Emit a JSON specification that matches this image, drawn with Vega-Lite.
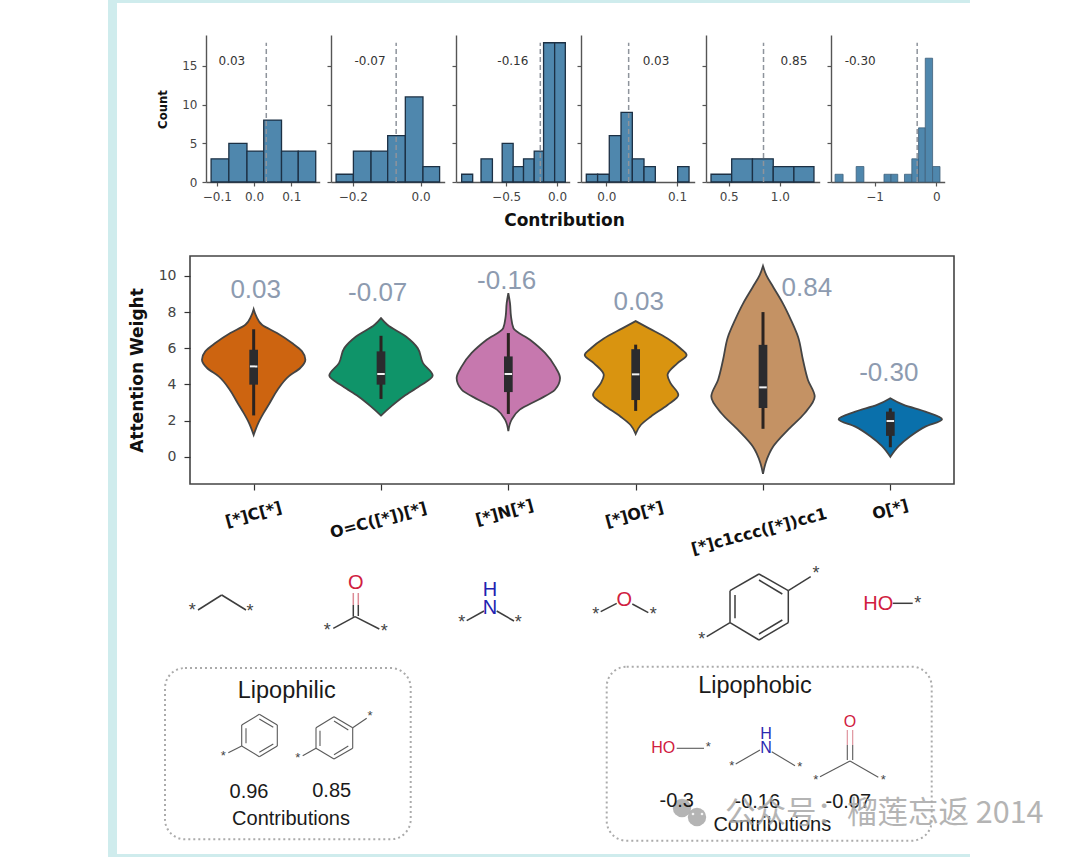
{
"$schema":"https://vega.github.io/schema/vega-lite/v6.json",
"padding":0,"background":"#ffffff","bounds":"flush","spacing":221,
"config":{"view":{"stroke":null},"axis":{"grid":false,"domainColor":"#555555","tickColor":"#555555","labelColor":"#444444","labelFont":"DejaVu Sans","labelFontSize":12,"tickSize":4,"domainWidth":1.4,"tickWidth":1.2,"labelPadding":5,"titleFont":"DejaVu Sans","titleFontWeight":"bold","titleColor":"#111111"}},
"vconcat":[
{"bounds":"flush","spacing":11,"hconcat":[
{"width":5,"height":147,"data":{"values":[{"a":0}]},"mark":{"type":"point","opacity":0},"encoding":{}},
{"width":113.7,"height":147,"layer":[
{"data":{"values":[{"b0":-0.1153,"b1":-0.0676,"count":3},{"b0":-0.0676,"b1":-0.0189,"count":5},{"b0":-0.0189,"b1":0.0261,"count":4},{"b0":0.0261,"b1":0.0739,"count":8},{"b0":0.0739,"b1":0.1189,"count":4},{"b0":0.1189,"b1":0.1658,"count":4}]},
"mark":{"type":"bar","fill":"#4f87ad","stroke":"#1c3044","strokeWidth":1.3},
"encoding":{"x":{"field":"b0","type":"quantitative","scale":{"domain":[-0.129,0.1765],"nice":false,"zero":false},"axis":{"values":[-0.1,0,0.1],"format":".1f","title":null}},"x2":{"field":"b1"},"y":{"field":"count","type":"quantitative","scale":{"domain":[0,19],"nice":false},"axis":{"values":[0,5,10,15],"title":"Count","titleFontSize":11.7,"titleX":-38,"titleY":74}},"y2":{"datum":0}}},
{"data":{"values":[{"mean":0.033,"from":0,"to":18}]},"mark":{"type":"rule","stroke":"#8e949c","strokeWidth":1.5,"strokeDash":[5,3]},"encoding":{"x":{"field":"mean","type":"quantitative"},"y":{"field":"from","type":"quantitative"},"y2":{"field":"to"}}},
{"data":{"values":[{"x":-0.0595,"y":15.6,"label":"0.03"}]},"mark":{"type":"text","font":"DejaVu Sans","fontSize":12,"fill":"#333333"},"encoding":{"x":{"field":"x","type":"quantitative"},"y":{"field":"y","type":"quantitative"},"text":{"field":"label"}}}
]},
{"width":113.7,"height":147,"layer":[
{"data":{"values":[{"b0":-0.249,"b1":-0.198,"count":1},{"b0":-0.198,"b1":-0.146,"count":4},{"b0":-0.146,"b1":-0.097,"count":4},{"b0":-0.097,"b1":-0.045,"count":6},{"b0":-0.045,"b1":0.007,"count":11},{"b0":0.007,"b1":0.056,"count":2}]},
"mark":{"type":"bar","fill":"#4f87ad","stroke":"#1c3044","strokeWidth":1.3},
"encoding":{"x":{"field":"b0","type":"quantitative","scale":{"domain":[-0.264,0.071],"nice":false,"zero":false},"axis":{"values":[-0.2,0],"format":".1f","title":null}},"x2":{"field":"b1"},"y":{"field":"count","type":"quantitative","scale":{"domain":[0,19],"nice":false},"axis":{"values":[0,5,10,15],"title":null,"labels":false}},"y2":{"datum":0}}},
{"data":{"values":[{"mean":-0.072,"from":0,"to":18}]},"mark":{"type":"rule","stroke":"#8e949c","strokeWidth":1.5,"strokeDash":[5,3]},"encoding":{"x":{"field":"mean","type":"quantitative"},"y":{"field":"from","type":"quantitative"},"y2":{"field":"to"}}},
{"data":{"values":[{"x":-0.149,"y":15.6,"label":"-0.07"}]},"mark":{"type":"text","font":"DejaVu Sans","fontSize":12,"fill":"#333333"},"encoding":{"x":{"field":"x","type":"quantitative"},"y":{"field":"y","type":"quantitative"},"text":{"field":"label"}}}
]},
{"width":113.7,"height":147,"layer":[
{"data":{"values":[{"b0":-0.9375,"b1":-0.829,"count":1},{"b0":-0.747,"b1":-0.635,"count":3},{"b0":-0.539,"b1":-0.431,"count":5},{"b0":-0.431,"b1":-0.329,"count":2},{"b0":-0.329,"b1":-0.224,"count":3},{"b0":-0.224,"b1":-0.132,"count":4},{"b0":-0.132,"b1":-0.023,"count":18},{"b0":-0.023,"b1":0.082,"count":18}]},
"mark":{"type":"bar","fill":"#4f87ad","stroke":"#1c3044","strokeWidth":1.3},
"encoding":{"x":{"field":"b0","type":"quantitative","scale":{"domain":[-0.993,0.125],"nice":false,"zero":false},"axis":{"values":[-0.5,0],"format":".1f","title":"Contribution","titleFontSize":17,"titleX":108,"titleY":30}},"x2":{"field":"b1"},"y":{"field":"count","type":"quantitative","scale":{"domain":[0,19],"nice":false},"axis":{"values":[0,5,10,15],"title":null,"labels":false}},"y2":{"datum":0}}},
{"data":{"values":[{"mean":-0.164,"from":0,"to":18}]},"mark":{"type":"rule","stroke":"#8e949c","strokeWidth":1.5,"strokeDash":[5,3]},"encoding":{"x":{"field":"mean","type":"quantitative"},"y":{"field":"from","type":"quantitative"},"y2":{"field":"to"}}},
{"data":{"values":[{"x":-0.434,"y":15.6,"label":"-0.16"}]},"mark":{"type":"text","font":"DejaVu Sans","fontSize":12,"fill":"#333333"},"encoding":{"x":{"field":"x","type":"quantitative"},"y":{"field":"y","type":"quantitative"},"text":{"field":"label"}}}
]},
{"width":113.7,"height":147,"layer":[
{"data":{"values":[{"b0":-0.0283,"b1":-0.0123,"count":1},{"b0":-0.0123,"b1":0.0042,"count":1},{"b0":0.0042,"b1":0.0208,"count":6},{"b0":0.0208,"b1":0.0368,"count":9},{"b0":0.0368,"b1":0.0533,"count":3},{"b0":0.0533,"b1":0.0693,"count":2},{"b0":0.1009,"b1":0.117,"count":2}]},
"mark":{"type":"bar","fill":"#4f87ad","stroke":"#1c3044","strokeWidth":1.3},
"encoding":{"x":{"field":"b0","type":"quantitative","scale":{"domain":[-0.0358,0.125],"nice":false,"zero":false},"axis":{"values":[0,0.1],"format":".1f","title":null}},"x2":{"field":"b1"},"y":{"field":"count","type":"quantitative","scale":{"domain":[0,19],"nice":false},"axis":{"values":[0,5,10,15],"title":null,"labels":false}},"y2":{"datum":0}}},
{"data":{"values":[{"mean":0.0316,"from":0,"to":18}]},"mark":{"type":"rule","stroke":"#8e949c","strokeWidth":1.5,"strokeDash":[5,3]},"encoding":{"x":{"field":"mean","type":"quantitative"},"y":{"field":"from","type":"quantitative"},"y2":{"field":"to"}}},
{"data":{"values":[{"x":0.0703,"y":15.6,"label":"0.03"}]},"mark":{"type":"text","font":"DejaVu Sans","fontSize":12,"fill":"#333333"},"encoding":{"x":{"field":"x","type":"quantitative"},"y":{"field":"y","type":"quantitative"},"text":{"field":"label"}}}
]},
{"width":113.7,"height":147,"layer":[
{"data":{"values":[{"b0":0.327,"b1":0.529,"count":1},{"b0":0.529,"b1":0.732,"count":3},{"b0":0.732,"b1":0.935,"count":3},{"b0":0.935,"b1":1.137,"count":2},{"b0":1.137,"b1":1.333,"count":2}]},
"mark":{"type":"bar","fill":"#4f87ad","stroke":"#1c3044","strokeWidth":1.3},
"encoding":{"x":{"field":"b0","type":"quantitative","scale":{"domain":[0.278,1.389],"nice":false,"zero":false},"axis":{"values":[0.5,1],"format":".1f","title":null}},"x2":{"field":"b1"},"y":{"field":"count","type":"quantitative","scale":{"domain":[0,19],"nice":false},"axis":{"values":[0,5,10,15],"title":null,"labels":false}},"y2":{"datum":0}}},
{"data":{"values":[{"mean":0.84,"from":0,"to":18}]},"mark":{"type":"rule","stroke":"#8e949c","strokeWidth":1.5,"strokeDash":[5,3]},"encoding":{"x":{"field":"mean","type":"quantitative"},"y":{"field":"from","type":"quantitative"},"y2":{"field":"to"}}},
{"data":{"values":[{"x":1.137,"y":15.6,"label":"0.85"}]},"mark":{"type":"text","font":"DejaVu Sans","fontSize":12,"fill":"#333333"},"encoding":{"x":{"field":"x","type":"quantitative"},"y":{"field":"y","type":"quantitative"},"text":{"field":"label"}}}
]},
{"width":113.7,"height":147,"layer":[
{"data":{"values":[{"b0":-1.641,"b1":-1.511,"count":1},{"b0":-1.299,"b1":-1.174,"count":2},{"b0":-0.848,"b1":-0.734,"count":1},{"b0":-0.734,"b1":-0.625,"count":1},{"b0":-0.516,"b1":-0.397,"count":1},{"b0":-0.397,"b1":-0.288,"count":3},{"b0":-0.288,"b1":-0.179,"count":7},{"b0":-0.179,"b1":-0.06,"count":16},{"b0":-0.06,"b1":0.06,"count":2}]},
"mark":{"type":"bar","fill":"#4f87ad","stroke":"#3f5f7a","strokeWidth":0.8},
"encoding":{"x":{"field":"b0","type":"quantitative","scale":{"domain":[-1.707,0.136],"nice":false,"zero":false},"axis":{"values":[-1,0],"format":"d","title":null}},"x2":{"field":"b1"},"y":{"field":"count","type":"quantitative","scale":{"domain":[0,19],"nice":false},"axis":{"values":[0,5,10,15],"title":null,"labels":false}},"y2":{"datum":0}}},
{"data":{"values":[{"mean":-0.31,"from":0,"to":18}]},"mark":{"type":"rule","stroke":"#8e949c","strokeWidth":1.5,"strokeDash":[5,3]},"encoding":{"x":{"field":"mean","type":"quantitative"},"y":{"field":"from","type":"quantitative"},"y2":{"field":"to"}}},
{"data":{"values":[{"x":-1.234,"y":15.6,"label":"-0.30"}]},"mark":{"type":"text","font":"DejaVu Sans","fontSize":12,"fill":"#333333"},"encoding":{"x":{"field":"x","type":"quantitative"},"y":{"field":"y","type":"quantitative"},"text":{"field":"label"}}}
]}
]},
{"width":764,"height":228,"view":{"stroke":"#444444","strokeWidth":1.6},"layer":[
{"data":{"values":[
{"fragment":"[*]C[*]","weight":8.16,"left":0,"right":0},{"fragment":"[*]C[*]","weight":7.76,"left":-0.021,"right":0.021},{"fragment":"[*]C[*]","weight":7.3,"left":-0.065,"right":0.065},{"fragment":"[*]C[*]","weight":6.84,"left":-0.183,"right":0.183},{"fragment":"[*]C[*]","weight":6.29,"left":-0.301,"right":0.301},{"fragment":"[*]C[*]","weight":5.83,"left":-0.38,"right":0.38},{"fragment":"[*]C[*]","weight":5.37,"left":-0.406,"right":0.406},{"fragment":"[*]C[*]","weight":4.91,"left":-0.366,"right":0.366},{"fragment":"[*]C[*]","weight":4.45,"left":-0.275,"right":0.275},{"fragment":"[*]C[*]","weight":3.71,"left":-0.188,"right":0.188},{"fragment":"[*]C[*]","weight":2.98,"left":-0.126,"right":0.126},{"fragment":"[*]C[*]","weight":2.43,"left":-0.079,"right":0.079},{"fragment":"[*]C[*]","weight":1.88,"left":-0.037,"right":0.037},{"fragment":"[*]C[*]","weight":1.21,"left":0,"right":0},
{"fragment":"O=C([*])[*]","weight":7.67,"left":1,"right":1},{"fragment":"O=C([*])[*]","weight":7.3,"left":0.95,"right":1.05},{"fragment":"O=C([*])[*]","weight":6.65,"left":0.804,"right":1.196},{"fragment":"O=C([*])[*]","weight":6.01,"left":0.712,"right":1.288},{"fragment":"O=C([*])[*]","weight":5.18,"left":0.67,"right":1.33},{"fragment":"O=C([*])[*]","weight":4.49,"left":0.594,"right":1.406},{"fragment":"O=C([*])[*]","weight":3.9,"left":0.7,"right":1.3},{"fragment":"O=C([*])[*]","weight":3.35,"left":0.82,"right":1.18},{"fragment":"O=C([*])[*]","weight":2.79,"left":0.92,"right":1.08},{"fragment":"O=C([*])[*]","weight":2.28,"left":1,"right":1},
{"fragment":"[*]N[*]","weight":9.04,"left":2,"right":2},{"fragment":"[*]N[*]","weight":8.49,"left":1.987,"right":2.013},{"fragment":"[*]N[*]","weight":7.76,"left":1.979,"right":2.021},{"fragment":"[*]N[*]","weight":7.11,"left":1.96,"right":2.04},{"fragment":"[*]N[*]","weight":6.47,"left":1.83,"right":2.17},{"fragment":"[*]N[*]","weight":5.74,"left":1.712,"right":2.288},{"fragment":"[*]N[*]","weight":5,"left":1.634,"right":2.366},{"fragment":"[*]N[*]","weight":4.36,"left":1.594,"right":2.406},{"fragment":"[*]N[*]","weight":3.71,"left":1.634,"right":2.366},{"fragment":"[*]N[*]","weight":3.16,"left":1.764,"right":2.236},{"fragment":"[*]N[*]","weight":2.61,"left":1.91,"right":2.09},{"fragment":"[*]N[*]","weight":2.06,"left":1.974,"right":2.026},{"fragment":"[*]N[*]","weight":1.42,"left":2,"right":2},
{"fragment":"[*]O[*]","weight":7.5,"left":3,"right":3},{"fragment":"[*]O[*]","weight":7.1,"left":2.895,"right":3.105},{"fragment":"[*]O[*]","weight":6.54,"left":2.75,"right":3.25},{"fragment":"[*]O[*]","weight":5.99,"left":2.647,"right":3.353},{"fragment":"[*]O[*]","weight":5.63,"left":2.6,"right":3.4},{"fragment":"[*]O[*]","weight":5.17,"left":2.673,"right":3.327},{"fragment":"[*]O[*]","weight":4.52,"left":2.75,"right":3.25},{"fragment":"[*]O[*]","weight":4.06,"left":2.725,"right":3.275},{"fragment":"[*]O[*]","weight":3.42,"left":2.665,"right":3.335},{"fragment":"[*]O[*]","weight":2.87,"left":2.75,"right":3.25},{"fragment":"[*]O[*]","weight":2.22,"left":2.882,"right":3.118},{"fragment":"[*]O[*]","weight":1.76,"left":2.96,"right":3.04},{"fragment":"[*]O[*]","weight":1.27,"left":3,"right":3},
{"fragment":"[*]c1ccc([*])cc1","weight":10.55,"left":4,"right":4},{"fragment":"[*]c1ccc([*])cc1","weight":10.04,"left":3.974,"right":4.026},{"fragment":"[*]c1ccc([*])cc1","weight":9.39,"left":3.92,"right":4.08},{"fragment":"[*]c1ccc([*])cc1","weight":8.47,"left":3.843,"right":4.157},{"fragment":"[*]c1ccc([*])cc1","weight":7.56,"left":3.78,"right":4.22},{"fragment":"[*]c1ccc([*])cc1","weight":6.64,"left":3.725,"right":4.275},{"fragment":"[*]c1ccc([*])cc1","weight":5.35,"left":3.686,"right":4.314},{"fragment":"[*]c1ccc([*])cc1","weight":4.25,"left":3.647,"right":4.353},{"fragment":"[*]c1ccc([*])cc1","weight":3.33,"left":3.594,"right":4.406},{"fragment":"[*]c1ccc([*])cc1","weight":2.41,"left":3.673,"right":4.327},{"fragment":"[*]c1ccc([*])cc1","weight":1.49,"left":3.804,"right":4.196},{"fragment":"[*]c1ccc([*])cc1","weight":0.57,"left":3.92,"right":4.08},{"fragment":"[*]c1ccc([*])cc1","weight":-0.35,"left":3.98,"right":4.02},{"fragment":"[*]c1ccc([*])cc1","weight":-0.94,"left":4,"right":4},
{"fragment":"O[*]","weight":3.24,"left":5,"right":5},{"fragment":"O[*]","weight":2.87,"left":4.895,"right":5.105},{"fragment":"O[*]","weight":2.5,"left":4.725,"right":5.275},{"fragment":"O[*]","weight":2.08,"left":4.594,"right":5.406},{"fragment":"O[*]","weight":1.67,"left":4.725,"right":5.275},{"fragment":"O[*]","weight":1.14,"left":4.843,"right":5.157},{"fragment":"O[*]","weight":0.59,"left":4.935,"right":5.065},{"fragment":"O[*]","weight":0,"left":5,"right":5}
]},
"mark":{"type":"area","orient":"horizontal","interpolate":"monotone","stroke":"#444444","strokeWidth":1.8,"fillOpacity":1},
"encoding":{"x":{"field":"left","type":"quantitative","scale":{"domain":[-0.5,5.5],"nice":false,"zero":false},"axis":{"values":[0,1,2,3,4,5],"labels":false,"title":null,"domain":false,"tickSize":6,"tickColor":"#333333"}},"x2":{"field":"right"},"y":{"field":"weight","type":"quantitative","scale":{"domain":[-1.5,11.1],"nice":false,"zero":false},"axis":{"values":[0,2,4,6,8,10],"title":"Attention Weight","titleFontSize":17,"titleX":-44,"titleY":114,"labelFontSize":14,"labelPadding":8,"domain":false,"tickSize":6,"tickColor":"#333333"}},"color":{"field":"fragment","type":"nominal","legend":null,"scale":{"domain":["[*]C[*]","O=C([*])[*]","[*]N[*]","[*]O[*]","[*]c1ccc([*])cc1","O[*]"],"range":["#cd6410","#0f9469","#c678ae","#d99410","#c49264","#0a70ab"]}}}},
{"data":{"values":[{"i":0,"low":2.29,"high":7.05},{"i":1,"low":3.2,"high":6.69},{"i":2,"low":2.37,"high":6.84},{"i":3,"low":2.54,"high":6.2},{"i":4,"low":1.55,"high":8},{"i":5,"low":0.53,"high":2.68}]},
"mark":{"type":"rule","stroke":"#2b2320","strokeWidth":3},"encoding":{"x":{"field":"i","type":"quantitative"},"y":{"field":"low","type":"quantitative"},"y2":{"field":"high"}}},
{"data":{"values":[{"i":0,"q1":3.99,"q3":5.92},{"i":1,"q1":3.99,"q3":5.83},{"i":2,"q1":3.58,"q3":5.55},{"i":3,"q1":3.14,"q3":5.95},{"i":4,"q1":2.7,"q3":6.19},{"i":5,"q1":1.16,"q3":2.5}]},
"mark":{"type":"rule","stroke":"#2b2b2e","strokeWidth":8.7},"encoding":{"x":{"field":"i","type":"quantitative"},"y":{"field":"q1","type":"quantitative"},"y2":{"field":"q3"}}},
{"data":{"values":[{"i":0,"median":5},{"i":1,"median":4.58},{"i":2,"median":4.58},{"i":3,"median":4.56},{"i":4,"median":3.84},{"i":5,"median":1.98}]},
"mark":{"type":"tick","color":"#f2f2f2","opacity":1,"orient":"horizontal","size":7.5,"thickness":2},"encoding":{"x":{"field":"i","type":"quantitative"},"y":{"field":"median","type":"quantitative"}}},
{"data":{"values":[{"x":0.016,"y":9.23,"label":"0.03"},{"x":0.974,"y":9.06,"label":"-0.07"},{"x":1.987,"y":9.73,"label":"-0.16"},{"x":3.024,"y":8.56,"label":"0.03"},{"x":4.344,"y":9.34,"label":"0.84"},{"x":4.988,"y":4.61,"label":"-0.30"}]},
"mark":{"type":"text","font":"Liberation Sans","fontSize":26,"fill":"#8d9bb0"},"encoding":{"x":{"field":"x","type":"quantitative"},"y":{"field":"y","type":"quantitative"},"text":{"field":"label"}}},
{"data":{"values":[{"x":0,"y":-3.2,"label":"[*]C[*]"},{"x":0.98,"y":-3.52,"label":"O=C([*])[*]"},{"x":1.97,"y":-3.09,"label":"[*]N[*]"},{"x":2.99,"y":-3.2,"label":"[*]O[*]"},{"x":3.97,"y":-4.13,"label":"[*]c1ccc([*])cc1"},{"x":5,"y":-2.93,"label":"O[*]"}]},
"mark":{"type":"text","font":"DejaVu Sans","fontWeight":"bold","fontSize":16,"angle":345,"fill":"#111111"},"encoding":{"x":{"field":"x","type":"quantitative"},"y":{"field":"y","type":"quantitative"},"text":{"field":"label"}}}
]},
{"width":764,"height":152,"layer":[
{"data":{"values":[{"x0":0,"x1":1080,"y0":0,"y1":857}]},"mark":{"type":"rect","fill":"#ffffff","fillOpacity":0},
"encoding":{"x":{"field":"x0","type":"quantitative","scale":{"domain":[190,954],"nice":false,"zero":false},"axis":null},"x2":{"field":"x1"},"y":{"field":"y0","type":"quantitative","scale":{"domain":[857,705],"nice":false,"zero":false},"axis":null},"y2":{"field":"y1"}}},
{"data":{"values":[{"x0":108,"x1":117,"y0":0,"y1":857},{"x0":117,"x1":970,"y0":0,"y1":3},{"x0":117,"x1":970,"y0":854,"y1":857}]},"mark":{"type":"rect","fill":"#cfeced"},
"encoding":{"x":{"field":"x0","type":"quantitative","axis":null},"x2":{"field":"x1"},"y":{"field":"y0","type":"quantitative","axis":null},"y2":{"field":"y1"}}},
{"data":{"values":[{"x0":165,"x1":410.7,"y0":668,"y1":839.3},{"x0":606.7,"x1":931.7,"y0":666.7,"y1":840.7}]},"mark":{"type":"rect","fillOpacity":0,"stroke":"#ababab","strokeWidth":2,"strokeDash":[2,3],"cornerRadius":20},
"encoding":{"x":{"field":"x0","type":"quantitative","axis":null},"x2":{"field":"x1"},"y":{"field":"y0","type":"quantitative","axis":null},"y2":{"field":"y1"}}},
{"data":{"values":[
{"a":198,"b":610,"c":221.7,"d":595},{"a":221.7,"b":595,"c":246,"d":610},
{"a":333.3,"b":628.3,"c":355,"d":616.7},{"a":355,"b":616.7,"c":379.3,"d":629},{"a":353.3,"b":616.7,"c":353.3,"d":605},{"a":358.3,"b":616,"c":358.3,"d":605},
{"a":466.7,"b":620.7,"c":484,"d":611},{"a":496.7,"b":611,"c":514,"d":621},
{"a":600.7,"b":611.7,"c":616.7,"d":603.3},{"a":632.3,"b":604,"c":648.3,"d":612.7},
{"a":759,"b":574,"c":788.3,"d":590.7},{"a":788.3,"b":590.7,"c":788.3,"d":622.7},{"a":788.3,"b":622.7,"c":759,"d":640},{"a":759,"b":640,"c":730,"d":622.7},{"a":730,"b":622.7,"c":730,"d":590.7},{"a":730,"b":590.7,"c":759,"d":574},{"a":788.3,"b":590.7,"c":810.7,"d":576.7},{"a":730,"b":622.7,"c":706.7,"d":636.7},{"a":735,"b":595,"c":735,"d":618.3},{"a":759,"b":580,"c":782.3,"d":594},{"a":759,"b":634,"c":782.3,"d":620},
{"a":892.7,"b":603.3,"c":912.7,"d":603.3}
]},"mark":{"type":"rule","stroke":"#3d3d3d","strokeWidth":1.5},
"encoding":{"x":{"field":"a","type":"quantitative","axis":null},"y":{"field":"b","type":"quantitative","axis":null},"x2":{"field":"c"},"y2":{"field":"d"}}},
{"data":{"values":[
{"a":259.3,"b":714.3,"c":277.3,"d":725},{"a":277.3,"b":725,"c":277.3,"d":746},{"a":277.3,"b":746,"c":259.3,"d":756.7},{"a":259.3,"b":756.7,"c":241.7,"d":746},{"a":241.7,"b":746,"c":241.7,"d":725},{"a":241.7,"b":725,"c":259.3,"d":714.3},{"a":241.7,"b":746,"c":228.3,"d":752.7},{"a":246,"b":728.3,"c":246,"d":743.3},{"a":259.3,"b":719,"c":273.3,"d":727.3},{"a":259.3,"b":752.3,"c":273.3,"d":744},
{"a":334,"b":716.7,"c":352.7,"d":727.7},{"a":352.7,"b":727.7,"c":352.7,"d":748.3},{"a":352.7,"b":748.3,"c":334,"d":759},{"a":334,"b":759,"c":316,"d":748.3},{"a":316,"b":748.3,"c":316,"d":727.7},{"a":316,"b":727.7,"c":334,"d":716.7},{"a":352.7,"b":727.7,"c":366.7,"d":718.3},{"a":316,"b":748.3,"c":302.7,"d":755.7},{"a":320,"b":730.7,"c":320,"d":746},{"a":334,"b":721,"c":348.3,"d":730},{"a":334,"b":754.7,"c":348.3,"d":746},
{"a":676.7,"b":748.3,"c":704,"d":748.3},{"a":735.7,"b":764,"c":760,"d":750},{"a":771.7,"b":751.7,"c":795,"d":765.7},{"a":820,"b":776.7,"c":850,"d":761},{"a":850,"b":761,"c":878.3,"d":777.3},{"a":847.3,"b":760,"c":847.3,"d":745},{"a":852.7,"b":760,"c":852.7,"d":745}
]},"mark":{"type":"rule","stroke":"#5a5a5a","strokeWidth":1.1},
"encoding":{"x":{"field":"a","type":"quantitative","axis":null},"y":{"field":"b","type":"quantitative","axis":null},"x2":{"field":"c"},"y2":{"field":"d"}}},
{"data":{"values":[{"a":353.3,"b":605,"c":353.3,"d":593},{"a":358.3,"b":605,"c":358.3,"d":593}]},"mark":{"type":"rule","stroke":"#dc8a95","strokeWidth":1.5},
"encoding":{"x":{"field":"a","type":"quantitative","axis":null},"y":{"field":"b","type":"quantitative","axis":null},"x2":{"field":"c"},"y2":{"field":"d"}}},
{"data":{"values":[{"a":847.3,"b":745,"c":847.3,"d":730},{"a":852.7,"b":745,"c":852.7,"d":730}]},"mark":{"type":"rule","stroke":"#dc8a95","strokeWidth":1.1},
"encoding":{"x":{"field":"a","type":"quantitative","axis":null},"y":{"field":"b","type":"quantitative","axis":null},"x2":{"field":"c"},"y2":{"field":"d"}}},
{"data":{"values":[{"x":355.7,"y":583,"t":"O"},{"x":624.3,"y":600,"t":"O"},{"x":878.3,"y":604,"t":"HO"}]},"mark":{"type":"text","font":"Liberation Sans","fontSize":20,"fill":"#d02040"},
"encoding":{"x":{"field":"x","type":"quantitative","axis":null},"y":{"field":"y","type":"quantitative","axis":null},"text":{"field":"t"}}},
{"data":{"values":[{"x":663.3,"y":748.3,"t":"HO"},{"x":850,"y":722.3,"t":"O"}]},"mark":{"type":"text","font":"Liberation Sans","fontSize":16,"fill":"#d02040"},
"encoding":{"x":{"field":"x","type":"quantitative","axis":null},"y":{"field":"y","type":"quantitative","axis":null},"text":{"field":"t"}}},
{"data":{"values":[{"x":490,"y":590,"t":"H"},{"x":490,"y":607.7,"t":"N"}]},"mark":{"type":"text","font":"Liberation Sans","fontSize":20,"fill":"#2222b0"},
"encoding":{"x":{"field":"x","type":"quantitative","axis":null},"y":{"field":"y","type":"quantitative","axis":null},"text":{"field":"t"}}},
{"data":{"values":[{"x":766,"y":734.3,"t":"H"},{"x":766,"y":747.7,"t":"N"}]},"mark":{"type":"text","font":"Liberation Sans","fontSize":16,"fill":"#2a2ab0"},
"encoding":{"x":{"field":"x","type":"quantitative","axis":null},"y":{"field":"y","type":"quantitative","axis":null},"text":{"field":"t"}}},
{"data":{"values":[{"x":192.3,"y":608.3,"t":"*"},{"x":250,"y":609,"t":"*"},{"x":327.3,"y":628.3,"t":"*"},{"x":384.3,"y":629,"t":"*"},{"x":461.7,"y":620,"t":"*"},{"x":518.3,"y":620,"t":"*"},{"x":595.7,"y":611.7,"t":"*"},{"x":653.3,"y":611.7,"t":"*"},{"x":816,"y":571,"t":"*"},{"x":701.7,"y":636.7,"t":"*"},{"x":917.7,"y":600.7,"t":"*"}]},"mark":{"type":"text","font":"Liberation Sans","fontSize":18,"fill":"#444444","dy":3},
"encoding":{"x":{"field":"x","type":"quantitative","axis":null},"y":{"field":"y","type":"quantitative","axis":null},"text":{"field":"t"}}},
{"data":{"values":[{"x":223.3,"y":754,"t":"*"},{"x":370,"y":714,"t":"*"},{"x":297.7,"y":756,"t":"*"},{"x":708.3,"y":745,"t":"*"},{"x":731.7,"y":764.3,"t":"*"},{"x":799.7,"y":765.3,"t":"*"},{"x":815.7,"y":777.7,"t":"*"},{"x":883.3,"y":778.3,"t":"*"}]},"mark":{"type":"text","font":"Liberation Sans","fontSize":13,"fill":"#444444","dy":2},
"encoding":{"x":{"field":"x","type":"quantitative","axis":null},"y":{"field":"y","type":"quantitative","axis":null},"text":{"field":"t"}}},
{"data":{"values":[{"x":286.7,"y":690.7,"t":"Lipophilic"},{"x":755,"y":686,"t":"Lipophobic"}]},"mark":{"type":"text","font":"Liberation Sans","fontSize":23.5,"fill":"#1a1a1a"},
"encoding":{"x":{"field":"x","type":"quantitative","axis":null},"y":{"field":"y","type":"quantitative","axis":null},"text":{"field":"t"}}},
{"data":{"values":[{"x":682,"y":808},{"x":697,"y":817}]},"mark":{"type":"point","filled":true,"shape":"circle","size":340,"fill":"#b0b0b0","opacity":0.95},
"encoding":{"x":{"field":"x","type":"quantitative","axis":null},"y":{"field":"y","type":"quantitative","axis":null}}},
{"data":{"values":[{"x":693,"y":814},{"x":702,"y":814}]},"mark":{"type":"point","filled":true,"shape":"circle","size":7,"fill":"#f4f4f4","opacity":1},
"encoding":{"x":{"field":"x","type":"quantitative","axis":null},"y":{"field":"y","type":"quantitative","axis":null}}},
{"data":{"values":[{"x":249,"y":791.7,"t":"0.96"},{"x":331.7,"y":790.7,"t":"0.85"},{"x":291,"y":819.3,"t":"Contributions"},{"x":676.7,"y":800.7,"t":"-0.3"},{"x":757.3,"y":801.7,"t":"-0.16"},{"x":848.3,"y":801.7,"t":"-0.07"},{"x":772.3,"y":825,"t":"Contributions"}]},"mark":{"type":"text","font":"Liberation Sans","fontSize":20,"fill":"#1a1a1a"},
"encoding":{"x":{"field":"x","type":"quantitative","axis":null},"y":{"field":"y","type":"quantitative","axis":null},"text":{"field":"t"}}},
{"data":{"values":[{"x":725,"y":814,"t":"公众号：榴莲忘返 2014"}]},"mark":{"type":"text","font":"Noto Sans CJK SC","fontSize":30.5,"align":"left","fill":"#a8a8a8","opacity":0.85},
"encoding":{"x":{"field":"x","type":"quantitative","axis":null},"y":{"field":"y","type":"quantitative","axis":null},"text":{"field":"t"}}}
]}
]}
